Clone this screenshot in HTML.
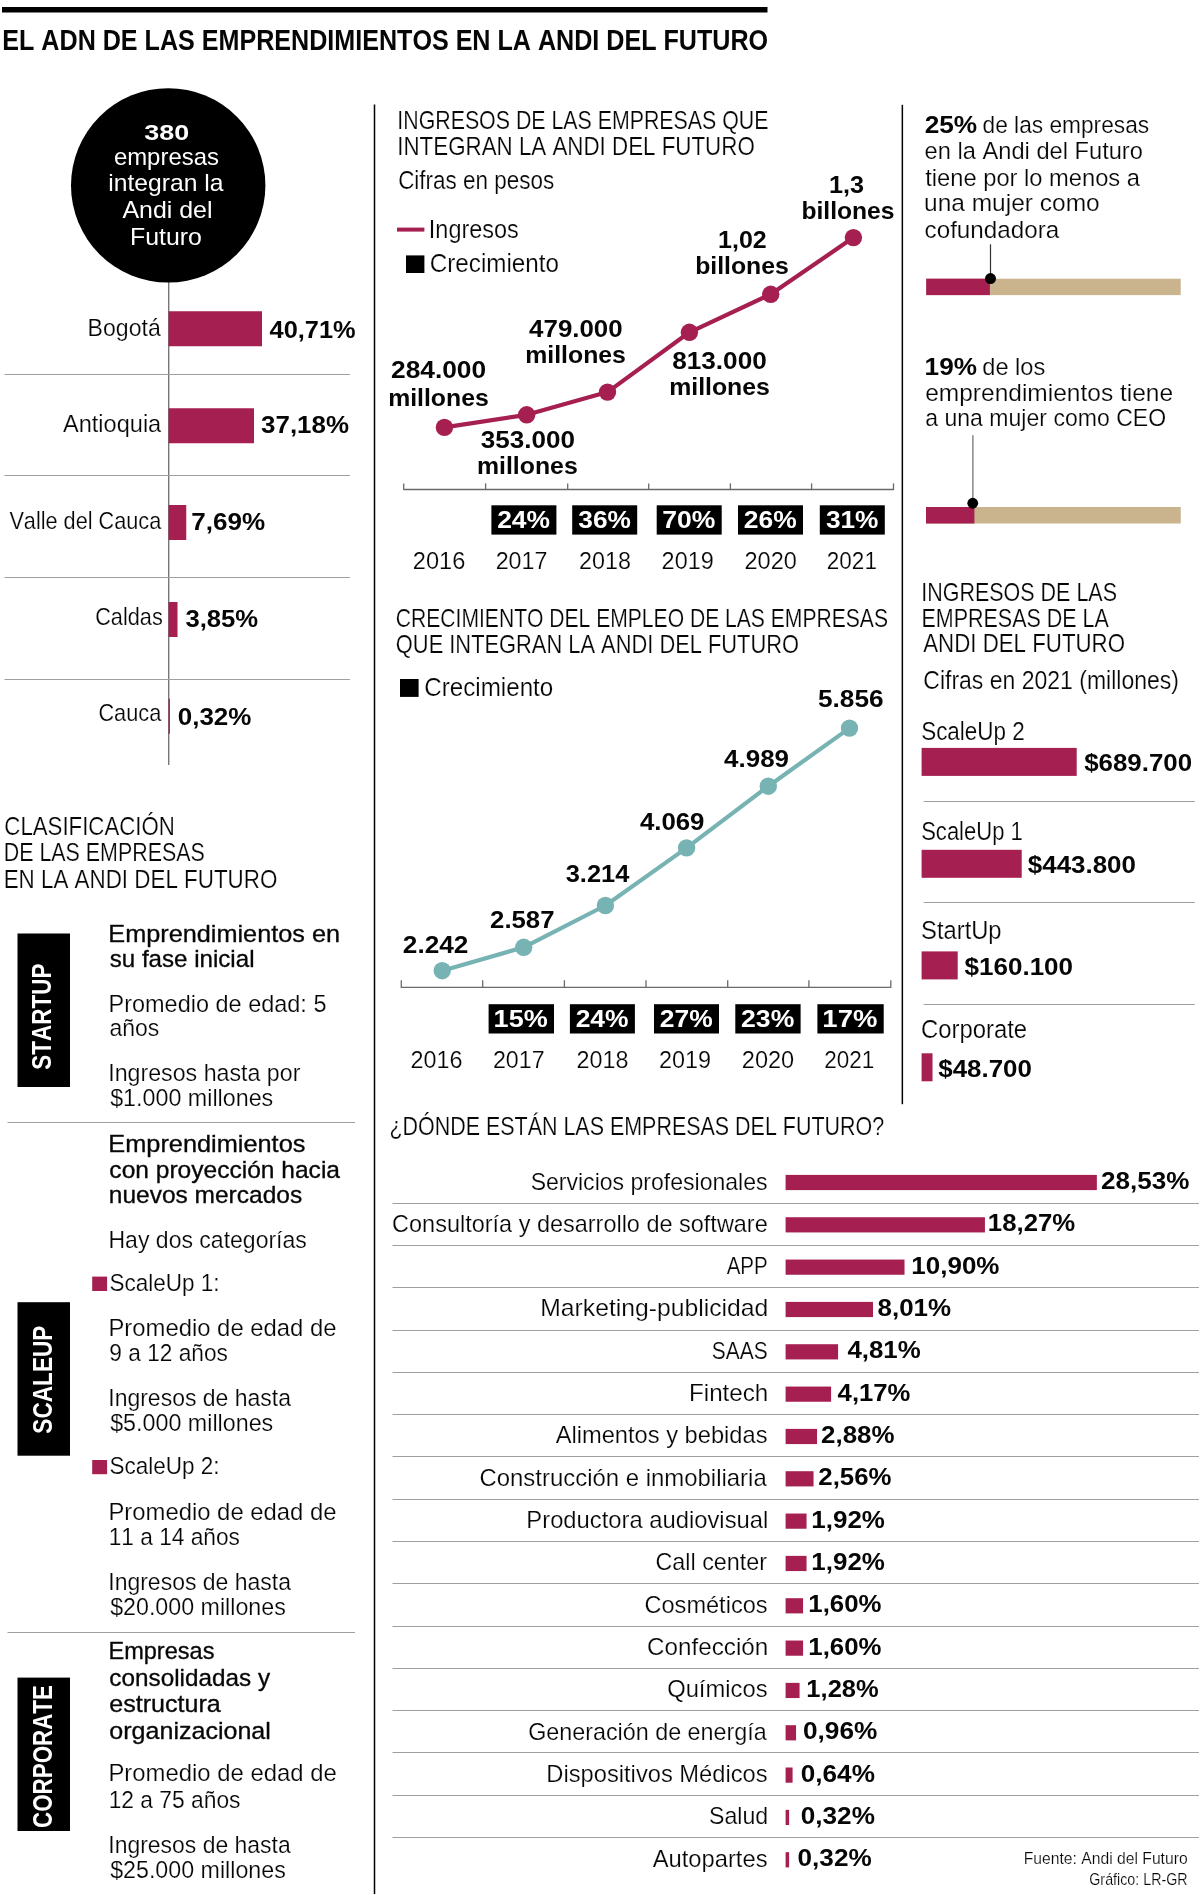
<!DOCTYPE html>
<html><head><meta charset="utf-8"><title>El ADN de las emprendimientos en la Andi del Futuro</title>
<style>
html,body{margin:0;padding:0;background:#fff;}
body{width:1200px;height:1895px;overflow:hidden;}
svg{display:block;will-change:transform;}
text{font-family:"Liberation Sans",sans-serif;fill:#060606;font-kerning:none;}
text.lt{stroke:#fff;stroke-width:0.2;paint-order:normal;}
text.md{stroke:#111;stroke-width:0.35;}
</style></head><body>
<svg width="1200" height="1895" viewBox="0 0 1200 1895">
<rect width="1200" height="1895" fill="#fff"/>
<rect x="2.00" y="7.00" width="765.50" height="5.50" fill="#000"/>
<text x="2.32" y="49.80" font-size="28.80" font-weight="bold" textLength="765.73" lengthAdjust="spacingAndGlyphs">EL ADN DE LAS EMPRENDIMIENTOS EN LA ANDI DEL FUTURO</text>
<rect x="168.00" y="280.00" width="1.40" height="485.00" fill="#777777"/>
<circle cx="168.20" cy="185.40" r="97.20" fill="#000"/>
<text x="144.28" y="139.50" font-size="22.70" font-weight="bold" style="fill:#fff" textLength="44.92" lengthAdjust="spacingAndGlyphs">380</text>
<text x="113.88" y="165.40" font-size="24.00" style="fill:#fff" textLength="105.08" lengthAdjust="spacingAndGlyphs">empresas</text>
<text x="108.25" y="191.40" font-size="24.00" style="fill:#fff" textLength="115.15" lengthAdjust="spacingAndGlyphs">integran la</text>
<text x="122.45" y="217.70" font-size="24.00" style="fill:#fff" textLength="90.01" lengthAdjust="spacingAndGlyphs">Andi del</text>
<text x="130.06" y="244.50" font-size="24.00" style="fill:#fff" textLength="71.88" lengthAdjust="spacingAndGlyphs">Futuro</text>
<text x="87.61" y="336.25" font-size="24.80" class="lt" textLength="73.14" lengthAdjust="spacingAndGlyphs">Bogotá</text>
<rect x="168.60" y="311.25" width="93.40" height="35.00" fill="#a61f51"/>
<text x="269.62" y="337.50" font-size="23.60" font-weight="bold" textLength="86.05" lengthAdjust="spacingAndGlyphs">40,71%</text>
<text x="62.95" y="432.00" font-size="24.80" class="lt" textLength="98.30" lengthAdjust="spacingAndGlyphs">Antioquia</text>
<rect x="168.60" y="408.25" width="85.40" height="35.00" fill="#a61f51"/>
<text x="261.11" y="433.30" font-size="23.60" font-weight="bold" textLength="87.88" lengthAdjust="spacingAndGlyphs">37,18%</text>
<text x="9.40" y="528.75" font-size="24.80" class="lt" textLength="151.85" lengthAdjust="spacingAndGlyphs">Valle del Cauca</text>
<rect x="168.60" y="505.00" width="17.65" height="35.00" fill="#a61f51"/>
<text x="191.38" y="530.00" font-size="23.60" font-weight="bold" textLength="73.80" lengthAdjust="spacingAndGlyphs">7,69%</text>
<text x="95.15" y="625.00" font-size="24.80" class="lt" textLength="67.64" lengthAdjust="spacingAndGlyphs">Caldas</text>
<rect x="168.60" y="602.00" width="8.90" height="35.00" fill="#a61f51"/>
<text x="185.41" y="627.00" font-size="23.60" font-weight="bold" textLength="72.77" lengthAdjust="spacingAndGlyphs">3,85%</text>
<text x="98.40" y="720.75" font-size="24.80" class="lt" textLength="62.85" lengthAdjust="spacingAndGlyphs">Cauca</text>
<rect x="168.60" y="698.75" width="1.30" height="35.00" fill="#a61f51"/>
<text x="177.72" y="725.00" font-size="23.60" font-weight="bold" textLength="73.71" lengthAdjust="spacingAndGlyphs">0,32%</text>
<rect x="4.50" y="374.00" width="345.50" height="1.00" fill="#a0a0a0"/>
<rect x="4.50" y="475.00" width="345.50" height="1.00" fill="#a0a0a0"/>
<rect x="4.50" y="577.00" width="345.50" height="1.00" fill="#a0a0a0"/>
<rect x="4.50" y="679.00" width="345.50" height="1.00" fill="#a0a0a0"/>
<text x="4.37" y="834.50" font-size="25.10" class="lt" textLength="170.44" lengthAdjust="spacingAndGlyphs">CLASIFICACIÓN</text>
<text x="3.74" y="860.75" font-size="25.10" class="lt" textLength="200.99" lengthAdjust="spacingAndGlyphs">DE LAS EMPRESAS</text>
<text x="3.66" y="887.50" font-size="25.10" class="lt" textLength="273.66" lengthAdjust="spacingAndGlyphs">EN LA ANDI DEL FUTURO</text>
<rect x="17.50" y="933.50" width="52.50" height="153.50" fill="#000"/>
<text transform="translate(51.00,1069.00) rotate(-90)" x="-0.65" y="0" font-size="27.00" font-weight="bold" style="fill:#fff" textLength="106.01" lengthAdjust="spacingAndGlyphs">STARTUP</text>
<rect x="17.50" y="1302.20" width="52.50" height="153.50" fill="#000"/>
<text transform="translate(51.50,1433.00) rotate(-90)" x="-0.65" y="0" font-size="27.00" font-weight="bold" style="fill:#fff" textLength="108.02" lengthAdjust="spacingAndGlyphs">SCALEUP</text>
<rect x="17.50" y="1677.60" width="52.50" height="153.40" fill="#000"/>
<text transform="translate(51.50,1827.00) rotate(-90)" x="-0.92" y="0" font-size="27.00" font-weight="bold" style="fill:#fff" textLength="142.79" lengthAdjust="spacingAndGlyphs">CORPORATE</text>
<text x="108.33" y="941.60" font-size="24.50" class="md" textLength="231.71" lengthAdjust="spacingAndGlyphs">Emprendimientos en</text>
<text x="109.73" y="967.40" font-size="24.50" class="md" textLength="144.78" lengthAdjust="spacingAndGlyphs">su fase inicial</text>
<text x="108.47" y="1011.50" font-size="24.50" class="lt" textLength="218.01" lengthAdjust="spacingAndGlyphs">Promedio de edad: 5</text>
<text x="109.42" y="1036.40" font-size="24.50" class="lt" textLength="49.81" lengthAdjust="spacingAndGlyphs">años</text>
<text x="108.26" y="1081.00" font-size="24.50" class="lt" textLength="192.13" lengthAdjust="spacingAndGlyphs">Ingresos hasta por</text>
<text x="110.15" y="1106.00" font-size="24.50" class="lt" textLength="163.09" lengthAdjust="spacingAndGlyphs">$1.000 millones</text>
<text x="108.32" y="1151.50" font-size="24.50" class="md" textLength="197.09" lengthAdjust="spacingAndGlyphs">Emprendimientos</text>
<text x="109.36" y="1177.60" font-size="24.50" class="md" textLength="230.64" lengthAdjust="spacingAndGlyphs">con proyección hacia</text>
<text x="108.78" y="1202.50" font-size="24.50" class="md">nuevos mercados</text>
<text x="108.51" y="1247.50" font-size="24.50" class="lt" textLength="198.32" lengthAdjust="spacingAndGlyphs">Hay dos categorías</text>
<text x="109.38" y="1291.00" font-size="24.50" class="lt" textLength="110.18" lengthAdjust="spacingAndGlyphs">ScaleUp 1:</text>
<text x="108.44" y="1335.60" font-size="24.50" class="lt" textLength="228.02" lengthAdjust="spacingAndGlyphs">Promedio de edad de</text>
<text x="109.34" y="1361.40" font-size="24.50" class="lt" textLength="118.58" lengthAdjust="spacingAndGlyphs">9 a 12 años</text>
<text x="108.28" y="1405.50" font-size="24.50" class="lt" textLength="182.72" lengthAdjust="spacingAndGlyphs">Ingresos de hasta</text>
<text x="110.15" y="1431.00" font-size="24.50" class="lt" textLength="163.09" lengthAdjust="spacingAndGlyphs">$5.000 millones</text>
<text x="109.38" y="1473.60" font-size="24.50" class="lt" textLength="110.18" lengthAdjust="spacingAndGlyphs">ScaleUp 2:</text>
<text x="108.44" y="1519.60" font-size="24.50" class="lt" textLength="228.02" lengthAdjust="spacingAndGlyphs">Promedio de edad de</text>
<text x="108.67" y="1545.40" font-size="24.50" class="lt" textLength="131.25" lengthAdjust="spacingAndGlyphs">11 a 14 años</text>
<text x="108.28" y="1589.50" font-size="24.50" class="lt" textLength="182.72" lengthAdjust="spacingAndGlyphs">Ingresos de hasta</text>
<text x="110.15" y="1615.00" font-size="24.50" class="lt" textLength="175.69" lengthAdjust="spacingAndGlyphs">$20.000 millones</text>
<text x="108.47" y="1659.40" font-size="24.50" class="md" textLength="105.98" lengthAdjust="spacingAndGlyphs">Empresas</text>
<text x="109.37" y="1685.50" font-size="24.50" class="md" textLength="160.68" lengthAdjust="spacingAndGlyphs">consolidadas y</text>
<text x="109.34" y="1711.70" font-size="24.50" class="md" textLength="111.36" lengthAdjust="spacingAndGlyphs">estructura</text>
<text x="109.35" y="1738.60" font-size="24.50" class="md" textLength="161.53" lengthAdjust="spacingAndGlyphs">organizacional</text>
<text x="108.44" y="1781.30" font-size="24.50" class="lt" textLength="228.32" lengthAdjust="spacingAndGlyphs">Promedio de edad de</text>
<text x="108.66" y="1808.20" font-size="24.50" class="lt" textLength="131.86" lengthAdjust="spacingAndGlyphs">12 a 75 años</text>
<text x="108.28" y="1852.60" font-size="24.50" class="lt" textLength="182.42" lengthAdjust="spacingAndGlyphs">Ingresos de hasta</text>
<text x="110.15" y="1877.90" font-size="24.50" class="lt" textLength="175.69" lengthAdjust="spacingAndGlyphs">$25.000 millones</text>
<rect x="92.20" y="1276.60" width="14.90" height="14.40" fill="#a61f51"/>
<rect x="92.20" y="1460.00" width="14.90" height="14.20" fill="#a61f51"/>
<rect x="7.50" y="1122.00" width="347.50" height="1.00" fill="#a0a0a0"/>
<rect x="7.50" y="1632.00" width="347.50" height="1.00" fill="#a0a0a0"/>
<rect x="373.75" y="104.50" width="1.50" height="1789.50" fill="#000"/>
<rect x="901.60" y="104.80" width="1.50" height="999.40" fill="#000"/>
<text x="397.33" y="128.70" font-size="25.30" class="lt" textLength="371.09" lengthAdjust="spacingAndGlyphs">INGRESOS DE LAS EMPRESAS QUE</text>
<text x="397.24" y="154.70" font-size="25.30" class="lt" textLength="357.53" lengthAdjust="spacingAndGlyphs">INTEGRAN LA ANDI DEL FUTURO</text>
<text x="398.16" y="188.50" font-size="25.30" class="lt" textLength="155.95" lengthAdjust="spacingAndGlyphs">Cifras en pesos</text>
<rect x="397.00" y="227.60" width="27.40" height="4.00" fill="#a61f51"/>
<text x="428.83" y="238.40" font-size="25.30" class="lt" textLength="90.01" lengthAdjust="spacingAndGlyphs">Ingresos</text>
<rect x="406.00" y="255.40" width="18.40" height="17.60" fill="#000"/>
<text x="429.77" y="272.40" font-size="25.30" class="lt" textLength="129.25" lengthAdjust="spacingAndGlyphs">Crecimiento</text>
<polyline points="444.40,427.40 526.70,414.80 607.50,392.10 689.40,332.30 770.70,294.30 853.40,237.60" fill="none" stroke="#a61f51" stroke-width="4.2" stroke-linejoin="round"/>
<circle cx="444.40" cy="427.40" r="8.70" fill="#a61f51"/>
<circle cx="526.70" cy="414.80" r="8.70" fill="#a61f51"/>
<circle cx="607.50" cy="392.10" r="8.70" fill="#a61f51"/>
<circle cx="689.40" cy="332.30" r="8.70" fill="#a61f51"/>
<circle cx="770.70" cy="294.30" r="8.70" fill="#a61f51"/>
<circle cx="853.40" cy="237.60" r="8.70" fill="#a61f51"/>
<text x="390.99" y="378.40" font-size="24.00" font-weight="bold" textLength="95.19" lengthAdjust="spacingAndGlyphs">284.000</text>
<text x="388.17" y="405.50" font-size="24.50" font-weight="bold" textLength="100.55" lengthAdjust="spacingAndGlyphs">millones</text>
<text x="480.80" y="448.00" font-size="24.00" font-weight="bold" textLength="94.17" lengthAdjust="spacingAndGlyphs">353.000</text>
<text x="476.96" y="474.00" font-size="24.50" font-weight="bold" textLength="100.76" lengthAdjust="spacingAndGlyphs">millones</text>
<text x="529.11" y="337.30" font-size="24.00" font-weight="bold" textLength="93.55" lengthAdjust="spacingAndGlyphs">479.000</text>
<text x="525.26" y="363.30" font-size="24.50" font-weight="bold" textLength="100.65" lengthAdjust="spacingAndGlyphs">millones</text>
<text x="672.17" y="369.10" font-size="24.00" font-weight="bold" textLength="94.60" lengthAdjust="spacingAndGlyphs">813.000</text>
<text x="669.16" y="395.10" font-size="24.50" font-weight="bold" textLength="100.76" lengthAdjust="spacingAndGlyphs">millones</text>
<text x="718.13" y="248.40" font-size="24.00" font-weight="bold" textLength="48.57" lengthAdjust="spacingAndGlyphs">1,02</text>
<text x="695.17" y="273.80" font-size="24.50" font-weight="bold" textLength="93.65" lengthAdjust="spacingAndGlyphs">billones</text>
<text x="829.11" y="192.50" font-size="24.00" font-weight="bold" textLength="35.00" lengthAdjust="spacingAndGlyphs">1,3</text>
<text x="801.38" y="219.00" font-size="24.50" font-weight="bold" textLength="93.14" lengthAdjust="spacingAndGlyphs">billones</text>
<line x1="403.70" y1="489.50" x2="893.50" y2="489.50" stroke="#6a6a6a" stroke-width="1.3"/>
<line x1="403.70" y1="483.40" x2="403.70" y2="490.10" stroke="#6a6a6a" stroke-width="1.3"/>
<line x1="485.60" y1="483.40" x2="485.60" y2="490.10" stroke="#6a6a6a" stroke-width="1.3"/>
<line x1="567.70" y1="483.40" x2="567.70" y2="490.10" stroke="#6a6a6a" stroke-width="1.3"/>
<line x1="648.70" y1="483.40" x2="648.70" y2="490.10" stroke="#6a6a6a" stroke-width="1.3"/>
<line x1="730.40" y1="483.40" x2="730.40" y2="490.10" stroke="#6a6a6a" stroke-width="1.3"/>
<line x1="811.60" y1="483.40" x2="811.60" y2="490.10" stroke="#6a6a6a" stroke-width="1.3"/>
<line x1="893.50" y1="483.40" x2="893.50" y2="490.10" stroke="#6a6a6a" stroke-width="1.3"/>
<rect x="491.40" y="505.30" width="65.00" height="29.30" fill="#000"/>
<text x="497.18" y="528.00" font-size="24.00" font-weight="bold" style="fill:#fff" textLength="52.91" lengthAdjust="spacingAndGlyphs">24%</text>
<rect x="572.20" y="505.30" width="65.00" height="29.30" fill="#000"/>
<text x="578.30" y="528.00" font-size="24.00" font-weight="bold" style="fill:#fff" textLength="52.60" lengthAdjust="spacingAndGlyphs">36%</text>
<rect x="656.70" y="505.30" width="65.00" height="29.30" fill="#000"/>
<text x="662.26" y="528.00" font-size="24.00" font-weight="bold" style="fill:#fff" textLength="53.14" lengthAdjust="spacingAndGlyphs">70%</text>
<rect x="738.00" y="505.30" width="65.00" height="29.30" fill="#000"/>
<text x="743.78" y="528.00" font-size="24.00" font-weight="bold" style="fill:#fff" textLength="52.91" lengthAdjust="spacingAndGlyphs">26%</text>
<rect x="819.80" y="505.30" width="65.00" height="29.30" fill="#000"/>
<text x="825.90" y="528.00" font-size="24.00" font-weight="bold" style="fill:#fff" textLength="52.60" lengthAdjust="spacingAndGlyphs">31%</text>
<text x="412.81" y="568.90" font-size="24.00" class="lt" textLength="52.53" lengthAdjust="spacingAndGlyphs">2016</text>
<text x="495.63" y="568.90" font-size="24.00" class="lt" textLength="51.74" lengthAdjust="spacingAndGlyphs">2017</text>
<text x="579.12" y="568.90" font-size="24.00" class="lt" textLength="51.99" lengthAdjust="spacingAndGlyphs">2018</text>
<text x="661.62" y="568.90" font-size="24.00" class="lt" textLength="52.09" lengthAdjust="spacingAndGlyphs">2019</text>
<text x="744.52" y="568.90" font-size="24.00" class="lt" textLength="52.40" lengthAdjust="spacingAndGlyphs">2020</text>
<text x="826.87" y="568.90" font-size="24.00" class="lt" textLength="50.03" lengthAdjust="spacingAndGlyphs">2021</text>
<text x="395.83" y="627.40" font-size="25.00" class="lt" textLength="492.14" lengthAdjust="spacingAndGlyphs">CRECIMIENTO DEL EMPLEO DE LAS EMPRESAS</text>
<text x="395.86" y="653.30" font-size="25.00" class="lt" textLength="403.18" lengthAdjust="spacingAndGlyphs">QUE INTEGRAN LA ANDI DEL FUTURO</text>
<rect x="400.00" y="679.00" width="18.60" height="17.90" fill="#000"/>
<text x="424.27" y="696.40" font-size="25.30" class="lt" textLength="129.04" lengthAdjust="spacingAndGlyphs">Crecimiento</text>
<polyline points="442.20,970.70 523.70,947.30 605.40,905.50 686.60,847.90 768.30,786.20 849.50,728.10" fill="none" stroke="#78b3b3" stroke-width="4.2" stroke-linejoin="round"/>
<circle cx="442.20" cy="970.70" r="8.70" fill="#78b3b3"/>
<circle cx="523.70" cy="947.30" r="8.70" fill="#78b3b3"/>
<circle cx="605.40" cy="905.50" r="8.70" fill="#78b3b3"/>
<circle cx="686.60" cy="847.90" r="8.70" fill="#78b3b3"/>
<circle cx="768.30" cy="786.20" r="8.70" fill="#78b3b3"/>
<circle cx="849.50" cy="728.10" r="8.70" fill="#78b3b3"/>
<text x="402.89" y="953.40" font-size="24.00" font-weight="bold" textLength="65.45" lengthAdjust="spacingAndGlyphs">2.242</text>
<text x="490.11" y="927.80" font-size="24.00" font-weight="bold" textLength="64.32" lengthAdjust="spacingAndGlyphs">2.587</text>
<text x="565.72" y="882.30" font-size="24.00" font-weight="bold" textLength="63.62" lengthAdjust="spacingAndGlyphs">3.214</text>
<text x="639.91" y="829.50" font-size="24.00" font-weight="bold" textLength="64.55" lengthAdjust="spacingAndGlyphs">4.069</text>
<text x="724.11" y="766.70" font-size="24.00" font-weight="bold" textLength="64.85" lengthAdjust="spacingAndGlyphs">4.989</text>
<text x="817.99" y="707.10" font-size="24.00" font-weight="bold" textLength="65.66" lengthAdjust="spacingAndGlyphs">5.856</text>
<line x1="401.30" y1="987.30" x2="890.80" y2="987.30" stroke="#6a6a6a" stroke-width="1.3"/>
<line x1="401.30" y1="980.20" x2="401.30" y2="987.90" stroke="#6a6a6a" stroke-width="1.3"/>
<line x1="482.70" y1="980.20" x2="482.70" y2="987.90" stroke="#6a6a6a" stroke-width="1.3"/>
<line x1="564.40" y1="980.20" x2="564.40" y2="987.90" stroke="#6a6a6a" stroke-width="1.3"/>
<line x1="646.00" y1="980.20" x2="646.00" y2="987.90" stroke="#6a6a6a" stroke-width="1.3"/>
<line x1="727.70" y1="980.20" x2="727.70" y2="987.90" stroke="#6a6a6a" stroke-width="1.3"/>
<line x1="808.90" y1="980.20" x2="808.90" y2="987.90" stroke="#6a6a6a" stroke-width="1.3"/>
<line x1="890.80" y1="980.20" x2="890.80" y2="987.90" stroke="#6a6a6a" stroke-width="1.3"/>
<rect x="488.60" y="1004.20" width="65.40" height="29.30" fill="#000"/>
<text x="493.60" y="1027.00" font-size="24.00" font-weight="bold" style="fill:#fff" textLength="54.12" lengthAdjust="spacingAndGlyphs">15%</text>
<rect x="569.90" y="1004.20" width="65.00" height="29.30" fill="#000"/>
<text x="575.68" y="1027.00" font-size="24.00" font-weight="bold" style="fill:#fff" textLength="52.91" lengthAdjust="spacingAndGlyphs">24%</text>
<rect x="654.00" y="1004.20" width="65.00" height="29.30" fill="#000"/>
<text x="659.78" y="1027.00" font-size="24.00" font-weight="bold" style="fill:#fff" textLength="52.91" lengthAdjust="spacingAndGlyphs">27%</text>
<rect x="735.30" y="1004.20" width="65.30" height="29.30" fill="#000"/>
<text x="741.08" y="1027.00" font-size="24.00" font-weight="bold" style="fill:#fff" textLength="53.22" lengthAdjust="spacingAndGlyphs">23%</text>
<rect x="817.40" y="1004.20" width="66.30" height="29.30" fill="#000"/>
<text x="822.37" y="1027.00" font-size="24.00" font-weight="bold" style="fill:#fff" textLength="55.06" lengthAdjust="spacingAndGlyphs">17%</text>
<text x="410.52" y="1068.00" font-size="24.00" class="lt" textLength="52.00" lengthAdjust="spacingAndGlyphs">2016</text>
<text x="492.93" y="1068.00" font-size="24.00" class="lt" textLength="51.74" lengthAdjust="spacingAndGlyphs">2017</text>
<text x="576.42" y="1068.00" font-size="24.00" class="lt" textLength="51.99" lengthAdjust="spacingAndGlyphs">2018</text>
<text x="658.92" y="1068.00" font-size="24.00" class="lt" textLength="52.09" lengthAdjust="spacingAndGlyphs">2019</text>
<text x="741.82" y="1068.00" font-size="24.00" class="lt" textLength="52.40" lengthAdjust="spacingAndGlyphs">2020</text>
<text x="824.17" y="1068.00" font-size="24.00" class="lt" textLength="50.03" lengthAdjust="spacingAndGlyphs">2021</text>
<text x="924.69" y="132.90" font-size="23.30" font-weight="bold" textLength="52.50" lengthAdjust="spacingAndGlyphs">25%</text>
<text x="982.55" y="132.90" font-size="24.50" class="lt" textLength="166.57" lengthAdjust="spacingAndGlyphs">de las empresas</text>
<text x="924.60" y="159.00" font-size="24.50" class="lt" textLength="218.30" lengthAdjust="spacingAndGlyphs">en la Andi del Futuro</text>
<text x="925.24" y="186.00" font-size="24.50" class="lt" textLength="214.76" lengthAdjust="spacingAndGlyphs">tiene por lo menos a</text>
<text x="924.01" y="211.20" font-size="24.50" class="lt">una mujer como</text>
<text x="924.57" y="237.90" font-size="24.50" class="lt" textLength="134.63" lengthAdjust="spacingAndGlyphs">cofundadora</text>
<rect x="926.20" y="278.70" width="254.50" height="16.40" fill="#c9b48d"/>
<rect x="926.20" y="278.70" width="63.70" height="16.40" fill="#a61f51"/>
<rect x="989.90" y="244.30" width="1.20" height="34.40" fill="#333"/>
<circle cx="990.50" cy="278.60" r="5.50" fill="#000"/>
<text x="924.60" y="374.50" font-size="23.30" font-weight="bold" textLength="52.34" lengthAdjust="spacingAndGlyphs">19%</text>
<text x="982.26" y="374.50" font-size="24.50" class="lt" textLength="63.10" lengthAdjust="spacingAndGlyphs">de los</text>
<text x="925.21" y="400.50" font-size="24.50" class="lt">emprendimientos tiene</text>
<text x="925.27" y="426.25" font-size="24.50" class="lt" textLength="240.83" lengthAdjust="spacingAndGlyphs">a una mujer como CEO</text>
<rect x="926.00" y="507.00" width="254.75" height="16.50" fill="#c9b48d"/>
<rect x="926.00" y="507.00" width="48.40" height="16.50" fill="#a61f51"/>
<rect x="972.30" y="435.20" width="1.20" height="68.05" fill="#6a6a6a"/>
<circle cx="972.75" cy="503.25" r="5.40" fill="#000"/>
<text x="921.27" y="601.00" font-size="25.20" class="lt" textLength="195.72" lengthAdjust="spacingAndGlyphs">INGRESOS DE LAS</text>
<text x="921.49" y="626.60" font-size="25.20" class="lt" textLength="187.30" lengthAdjust="spacingAndGlyphs">EMPRESAS DE LA</text>
<text x="923.21" y="652.30" font-size="25.20" class="lt" textLength="201.86" lengthAdjust="spacingAndGlyphs">ANDI DEL FUTURO</text>
<text x="923.33" y="689.00" font-size="25.00" class="lt" textLength="255.59" lengthAdjust="spacingAndGlyphs">Cifras en 2021 (millones)</text>
<text x="921.18" y="739.50" font-size="25.00" class="lt" textLength="103.55" lengthAdjust="spacingAndGlyphs">ScaleUp 2</text>
<rect x="921.60" y="747.90" width="155.10" height="28.00" fill="#a61f51"/>
<text x="1084.16" y="771.40" font-size="23.70" font-weight="bold" textLength="107.90" lengthAdjust="spacingAndGlyphs">$689.700</text>
<text x="921.20" y="839.50" font-size="25.00" class="lt" textLength="101.57" lengthAdjust="spacingAndGlyphs">ScaleUp 1</text>
<rect x="921.60" y="849.80" width="100.10" height="28.00" fill="#a61f51"/>
<text x="1027.86" y="873.30" font-size="23.70" font-weight="bold" textLength="108.10" lengthAdjust="spacingAndGlyphs">$443.800</text>
<text x="921.12" y="939.00" font-size="25.00" class="lt" textLength="80.47" lengthAdjust="spacingAndGlyphs">StartUp</text>
<rect x="921.60" y="951.40" width="36.10" height="28.00" fill="#a61f51"/>
<text x="964.56" y="974.90" font-size="23.70" font-weight="bold" textLength="108.51" lengthAdjust="spacingAndGlyphs">$160.100</text>
<text x="920.99" y="1037.90" font-size="25.00" class="lt" textLength="106.17" lengthAdjust="spacingAndGlyphs">Corporate</text>
<rect x="921.60" y="1053.30" width="10.90" height="28.00" fill="#a61f51"/>
<text x="938.26" y="1076.80" font-size="23.70" font-weight="bold" textLength="93.60" lengthAdjust="spacingAndGlyphs">$48.700</text>
<rect x="923.60" y="801.00" width="271.20" height="1.00" fill="#a0a0a0"/>
<rect x="923.60" y="902.00" width="271.20" height="1.00" fill="#a0a0a0"/>
<rect x="923.60" y="1004.00" width="271.20" height="1.00" fill="#a0a0a0"/>
<text x="389.43" y="1134.50" font-size="25.40" class="lt" textLength="494.67" lengthAdjust="spacingAndGlyphs">¿DÓNDE ESTÁN LAS EMPRESAS DEL FUTURO?</text>
<text x="530.65" y="1189.50" font-size="24.00" class="lt" textLength="236.88" lengthAdjust="spacingAndGlyphs">Servicios profesionales</text>
<rect x="785.60" y="1174.90" width="311.26" height="15.20" fill="#a61f51"/>
<text x="1101.10" y="1188.90" font-size="23.40" font-weight="bold" textLength="88.34" lengthAdjust="spacingAndGlyphs">28,53%</text>
<text x="392.11" y="1231.83" font-size="24.00" class="lt" textLength="375.63" lengthAdjust="spacingAndGlyphs">Consultoría y desarrollo de software</text>
<rect x="785.60" y="1217.23" width="199.33" height="15.20" fill="#a61f51"/>
<text x="987.88" y="1231.23" font-size="23.40" font-weight="bold" textLength="87.30" lengthAdjust="spacingAndGlyphs">18,27%</text>
<text x="726.66" y="1274.16" font-size="24.00" class="lt" textLength="41.12" lengthAdjust="spacingAndGlyphs">APP</text>
<rect x="785.60" y="1259.56" width="118.92" height="15.20" fill="#a61f51"/>
<text x="911.36" y="1273.56" font-size="23.40" font-weight="bold" textLength="88.07" lengthAdjust="spacingAndGlyphs">10,90%</text>
<text x="540.27" y="1316.49" font-size="24.00" class="lt" textLength="228.02" lengthAdjust="spacingAndGlyphs">Marketing-publicidad</text>
<rect x="785.60" y="1301.89" width="87.39" height="15.20" fill="#a61f51"/>
<text x="877.58" y="1315.89" font-size="23.40" font-weight="bold" textLength="73.51" lengthAdjust="spacingAndGlyphs">8,01%</text>
<text x="711.75" y="1358.82" font-size="24.00" class="lt" textLength="55.91" lengthAdjust="spacingAndGlyphs">SAAS</text>
<rect x="785.60" y="1344.22" width="52.48" height="15.20" fill="#a61f51"/>
<text x="847.41" y="1358.22" font-size="23.40" font-weight="bold" textLength="73.27" lengthAdjust="spacingAndGlyphs">4,81%</text>
<text x="689.02" y="1401.15" font-size="24.00" class="lt" textLength="79.25" lengthAdjust="spacingAndGlyphs">Fintech</text>
<rect x="785.60" y="1386.55" width="45.49" height="15.20" fill="#a61f51"/>
<text x="837.61" y="1400.55" font-size="23.40" font-weight="bold" textLength="72.77" lengthAdjust="spacingAndGlyphs">4,17%</text>
<text x="555.65" y="1443.48" font-size="24.00" class="lt" textLength="211.90" lengthAdjust="spacingAndGlyphs">Alimentos y bebidas</text>
<rect x="785.60" y="1428.88" width="31.42" height="15.20" fill="#a61f51"/>
<text x="821.10" y="1442.88" font-size="23.40" font-weight="bold" textLength="73.38" lengthAdjust="spacingAndGlyphs">2,88%</text>
<text x="479.49" y="1485.81" font-size="24.00" class="lt" textLength="287.21" lengthAdjust="spacingAndGlyphs">Construcción e inmobiliaria</text>
<rect x="785.60" y="1471.21" width="27.93" height="15.20" fill="#a61f51"/>
<text x="818.31" y="1485.21" font-size="23.40" font-weight="bold" textLength="73.18" lengthAdjust="spacingAndGlyphs">2,56%</text>
<text x="526.35" y="1528.14" font-size="24.00" class="lt" textLength="241.94" lengthAdjust="spacingAndGlyphs">Productora audiovisual</text>
<rect x="785.60" y="1513.54" width="20.95" height="15.20" fill="#a61f51"/>
<text x="811.37" y="1527.54" font-size="23.40" font-weight="bold" textLength="73.52" lengthAdjust="spacingAndGlyphs">1,92%</text>
<text x="655.51" y="1570.47" font-size="24.00" class="lt" textLength="111.57" lengthAdjust="spacingAndGlyphs">Call center</text>
<rect x="785.60" y="1555.87" width="20.95" height="15.20" fill="#a61f51"/>
<text x="811.37" y="1569.87" font-size="23.40" font-weight="bold" textLength="73.52" lengthAdjust="spacingAndGlyphs">1,92%</text>
<text x="644.50" y="1612.80" font-size="24.00" class="lt" textLength="123.05" lengthAdjust="spacingAndGlyphs">Cosméticos</text>
<rect x="785.60" y="1598.20" width="17.46" height="15.20" fill="#a61f51"/>
<text x="808.38" y="1612.20" font-size="23.40" font-weight="bold" textLength="73.10" lengthAdjust="spacingAndGlyphs">1,60%</text>
<text x="647.07" y="1655.13" font-size="24.00" class="lt" textLength="121.20" lengthAdjust="spacingAndGlyphs">Confección</text>
<rect x="785.60" y="1640.53" width="17.46" height="15.20" fill="#a61f51"/>
<text x="808.38" y="1654.53" font-size="23.40" font-weight="bold" textLength="73.10" lengthAdjust="spacingAndGlyphs">1,60%</text>
<text x="667.17" y="1697.46" font-size="24.00" class="lt" textLength="100.38" lengthAdjust="spacingAndGlyphs">Químicos</text>
<rect x="785.60" y="1682.86" width="13.96" height="15.20" fill="#a61f51"/>
<text x="806.39" y="1696.86" font-size="23.40" font-weight="bold" textLength="72.28" lengthAdjust="spacingAndGlyphs">1,28%</text>
<text x="528.13" y="1739.79" font-size="24.00" class="lt" textLength="238.57" lengthAdjust="spacingAndGlyphs">Generación de energía</text>
<rect x="785.60" y="1725.19" width="10.47" height="15.20" fill="#a61f51"/>
<text x="802.96" y="1739.19" font-size="23.40" font-weight="bold" textLength="74.33" lengthAdjust="spacingAndGlyphs">0,96%</text>
<text x="546.36" y="1782.12" font-size="24.00" class="lt" textLength="221.20" lengthAdjust="spacingAndGlyphs">Dispositivos Médicos</text>
<rect x="785.60" y="1767.52" width="6.98" height="15.20" fill="#a61f51"/>
<text x="800.77" y="1781.52" font-size="23.40" font-weight="bold" textLength="74.12" lengthAdjust="spacingAndGlyphs">0,64%</text>
<text x="708.95" y="1824.45" font-size="24.00" class="lt" textLength="59.24" lengthAdjust="spacingAndGlyphs">Salud</text>
<rect x="785.60" y="1809.85" width="3.49" height="15.20" fill="#a61f51"/>
<text x="800.77" y="1823.85" font-size="23.40" font-weight="bold" textLength="74.12" lengthAdjust="spacingAndGlyphs">0,32%</text>
<text x="652.65" y="1866.78" font-size="24.00" class="lt" textLength="114.90" lengthAdjust="spacingAndGlyphs">Autopartes</text>
<rect x="785.60" y="1852.18" width="3.49" height="15.20" fill="#a61f51"/>
<text x="797.57" y="1866.18" font-size="23.40" font-weight="bold" textLength="74.12" lengthAdjust="spacingAndGlyphs">0,32%</text>
<rect x="392.50" y="1203.00" width="806.50" height="1.00" fill="#a0a0a0"/>
<rect x="392.50" y="1245.00" width="806.50" height="1.00" fill="#a0a0a0"/>
<rect x="392.50" y="1287.00" width="806.50" height="1.00" fill="#a0a0a0"/>
<rect x="392.50" y="1330.00" width="806.50" height="1.00" fill="#a0a0a0"/>
<rect x="392.50" y="1372.00" width="806.50" height="1.00" fill="#a0a0a0"/>
<rect x="392.50" y="1414.00" width="806.50" height="1.00" fill="#a0a0a0"/>
<rect x="392.50" y="1456.00" width="806.50" height="1.00" fill="#a0a0a0"/>
<rect x="392.50" y="1499.00" width="806.50" height="1.00" fill="#a0a0a0"/>
<rect x="392.50" y="1541.00" width="806.50" height="1.00" fill="#a0a0a0"/>
<rect x="392.50" y="1583.00" width="806.50" height="1.00" fill="#a0a0a0"/>
<rect x="392.50" y="1626.00" width="806.50" height="1.00" fill="#a0a0a0"/>
<rect x="392.50" y="1668.00" width="806.50" height="1.00" fill="#a0a0a0"/>
<rect x="392.50" y="1710.00" width="806.50" height="1.00" fill="#a0a0a0"/>
<rect x="392.50" y="1752.00" width="806.50" height="1.00" fill="#a0a0a0"/>
<rect x="392.50" y="1795.00" width="806.50" height="1.00" fill="#a0a0a0"/>
<rect x="392.50" y="1837.00" width="806.50" height="1.00" fill="#a0a0a0"/>
<text x="1023.71" y="1863.70" font-size="16.60" class="lt" textLength="163.95" lengthAdjust="spacingAndGlyphs">Fuente: Andi del Futuro</text>
<text x="1089.28" y="1885.40" font-size="16.60" class="lt" textLength="98.38" lengthAdjust="spacingAndGlyphs">Gráfico: LR-GR</text>
</svg>
</body></html>
